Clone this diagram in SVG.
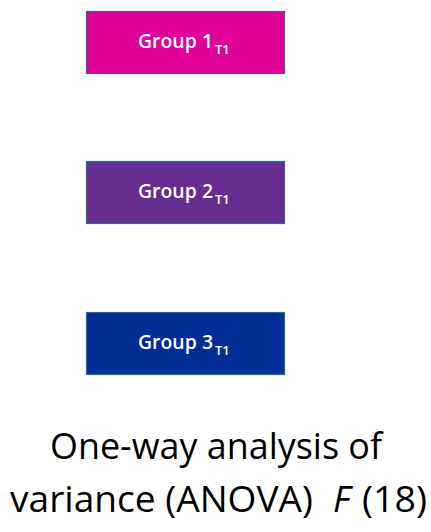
<svg xmlns="http://www.w3.org/2000/svg" width="431" height="532" viewBox="0 0 431 532">
<style>
.box{stroke:#2F6A8C;stroke-width:1.2}
.lbl{font-family:"Open Sans","Liberation Sans",sans-serif;font-size:20px;font-weight:600;fill:#FFFFFF}
.sub{font-size:13px}
.cap{font-family:"Open Sans","Liberation Sans",sans-serif;font-size:36px;font-weight:500;fill:#000000}
</style>
<rect width="431" height="532" fill="#FFFFFF"/>
<g id="group1">
<rect class="box" x="86.5" y="11.5" width="198" height="62" fill="#E0009A"/>
<text class="lbl" x="138" y="48"><tspan textLength="75" lengthAdjust="spacingAndGlyphs">Group 1</tspan><tspan class="sub" x="215" y="54">T1</tspan></text>
</g>
<g id="group2">
<rect class="box" x="86.5" y="161.5" width="198" height="62" fill="#662C91"/>
<text class="lbl" x="138" y="198"><tspan textLength="75" lengthAdjust="spacingAndGlyphs">Group 2</tspan><tspan class="sub" x="215" y="204">T1</tspan></text>
</g>
<g id="group3">
<rect class="box" x="86.5" y="312.5" width="198" height="62" fill="#002D96"/>
<text class="lbl" x="138" y="349"><tspan textLength="75" lengthAdjust="spacingAndGlyphs">Group 3</tspan><tspan class="sub" x="215" y="355">T1</tspan></text>
</g>
<g id="connectors"></g>
<g id="caption">
<text class="cap" x="50" y="459" textLength="332" lengthAdjust="spacingAndGlyphs">One-way analysis of</text>
<text class="cap" x="10" y="512" textLength="303" lengthAdjust="spacingAndGlyphs">variance (ANOVA)</text>
<text class="cap" x="333" y="512" font-style="italic">F</text>
<text class="cap" x="362" y="512" fill="#17707F" textLength="65" lengthAdjust="spacingAndGlyphs">(18)</text>
</g>
</svg>
